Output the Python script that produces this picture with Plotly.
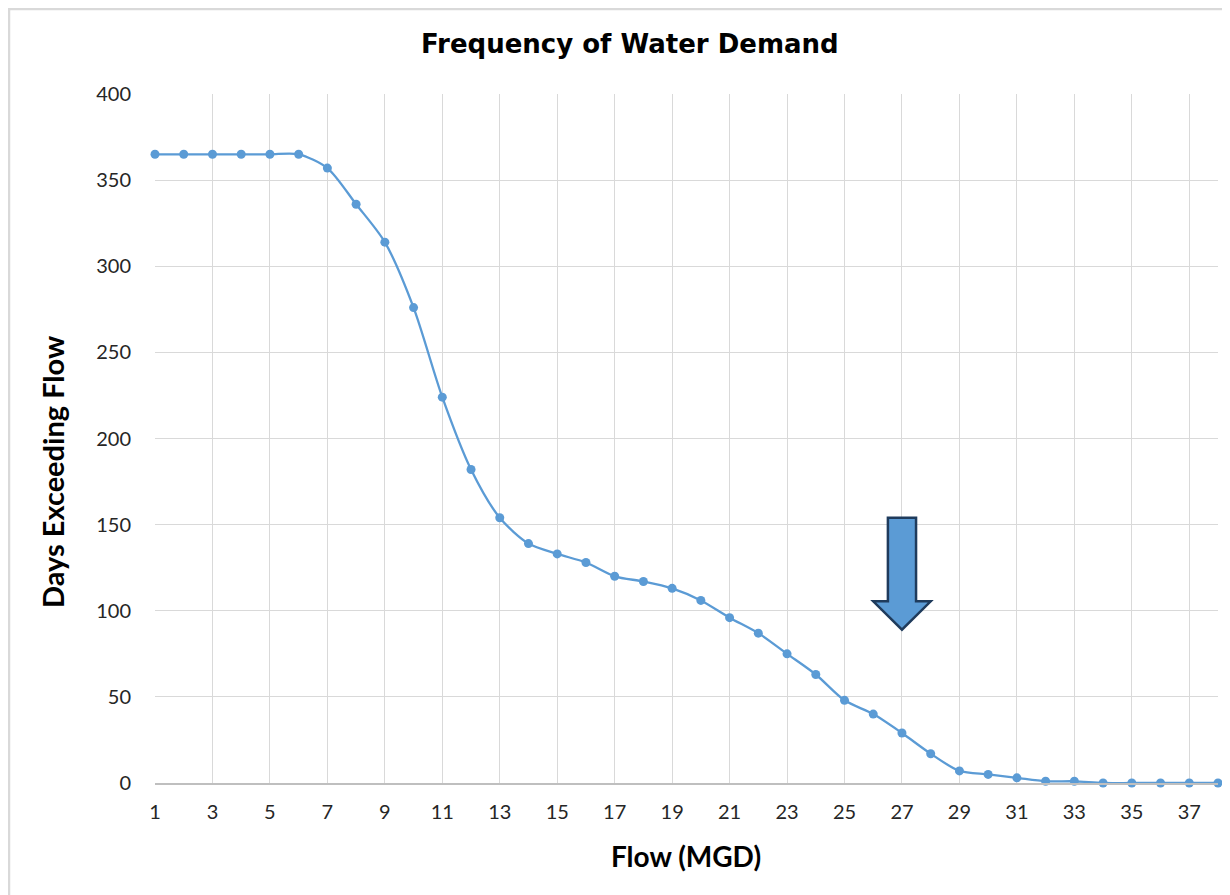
import plotly.graph_objects as go

flow = list(range(1, 39))
days = [365, 365, 365, 365, 365, 365, 357, 336, 314, 276,
        224, 182, 154, 139, 133, 128, 120, 117, 113, 106,
        96, 87, 75, 63, 48, 40, 29, 17, 7, 5,
        3, 1, 1, 0, 0, 0, 0, 0]

title_text = "Frequency of Water Demand"
x_title = "Flow (MGD)"
y_title = "Days Exceeding Flow"

# arrow marker (pointing at flow 27)
arrow_x = 27
arrow_top = 154
arrow_head = 105.5
arrow_tip = 89
shaft_half = 0.49
head_half = 1.0

LINE_COLOR = "#5B9BD5"
FONT = "Lato"

# target plot-area pixel box (page coordinates)
PL, PR, PT, PB = 155, 1218, 94, 783
OFF = 8  # default page body margin
W, H = 1230, 895
PW, PH = PR - PL, PB - PT


def px(xp):
    return (xp - PL) / PW


def py(yp):
    return (PB - yp) / PH


fig = go.Figure()
fig.add_trace(go.Scatter(
    x=flow, y=days, mode="lines+markers",
    line=dict(color=LINE_COLOR, width=2.3, shape="spline", smoothing=0.8),
    marker=dict(color=LINE_COLOR, size=9),
    showlegend=False, hoverinfo="x+y", cliponaxis=False,
))

path = (f"M {arrow_x - shaft_half},{arrow_top} L {arrow_x + shaft_half},{arrow_top} "
        f"L {arrow_x + shaft_half},{arrow_head} L {arrow_x + head_half},{arrow_head} "
        f"L {arrow_x},{arrow_tip} L {arrow_x - head_half},{arrow_head} "
        f"L {arrow_x - shaft_half},{arrow_head} Z")
fig.add_shape(type="path", path=path, xref="x", yref="y",
              fillcolor=LINE_COLOR, line=dict(color="#1F3B5C", width=2.5))

# chart frame
fig.add_shape(type="rect", xref="paper", yref="paper",
              x0=px(9), x1=px(1260), y0=py(920), y1=py(9),
              line=dict(color="#D9D9D9", width=2.5), fillcolor="rgba(0,0,0,0)",
              layer="below")

fig.add_annotation(text=f"<b>{title_text}</b>", xref="paper", yref="paper",
                   x=px(630), y=py(44), xanchor="center", yanchor="middle",
                   showarrow=False,
                   font=dict(family="DejaVu Sans", size=26, color="#000000"))
fig.add_annotation(text=f"<b>{x_title}</b>", xref="paper", yref="paper",
                   x=px(686), y=py(856), xanchor="center", yanchor="middle",
                   showarrow=False,
                   font=dict(family=FONT, size=28, color="#000000"))
fig.add_annotation(text=f"<b>{y_title}</b>", xref="paper", yref="paper",
                   x=px(52), y=py(472), xanchor="center", yanchor="middle",
                   textangle=-90, showarrow=False,
                   font=dict(family=FONT, size=29, color="#000000"))

fig.update_layout(
    width=W, height=H,
    margin=dict(l=PL - OFF, r=W + OFF - PR, t=PT - OFF, b=H + OFF - PB),
    paper_bgcolor="white", plot_bgcolor="white",
    font=dict(family=FONT, color="#262626"),
    xaxis=dict(range=[1, 38], tick0=1, dtick=2, showgrid=True,
               gridcolor="#D9D9D9", gridwidth=1.3,
               showline=True, linecolor="#BFBFBF", linewidth=1.5,
               ticks="", ticklabelstandoff=10, automargin=False,
               tickfont=dict(family=FONT, size=20, color="#262626"),
               zeroline=False, fixedrange=True),
    yaxis=dict(range=[0, 400], dtick=50, showgrid=True,
               gridcolor="#D9D9D9", gridwidth=1.3, zeroline=False,
               ticks="", ticklabelstandoff=23, automargin=False,
               tickfont=dict(family=FONT, size=20, color="#262626"),
               fixedrange=True),
)

fig.write_html("out.html")
